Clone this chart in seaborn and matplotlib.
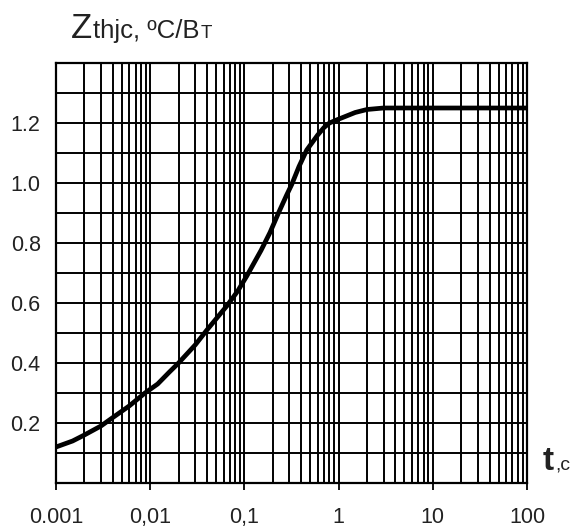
import matplotlib
matplotlib.use("Agg")
import matplotlib.pyplot as plt
import matplotlib.ticker as mticker
import numpy as np
import pandas as pd
import seaborn as sns

# Transient thermal impedance, junction to case
t_sec = [0.001, 0.0015, 0.002, 0.003, 0.004, 0.006, 0.0088, 0.012, 0.016,
         0.020, 0.030, 0.040, 0.065, 0.085, 0.106, 0.13, 0.15, 0.187, 0.23,
         0.281, 0.318, 0.38, 0.459, 0.60, 0.70, 0.80, 0.95, 1.5, 2.0, 3.0,
         10.0, 100.0]
z_thjc = [0.12, 0.14, 0.16, 0.19, 0.218, 0.257, 0.30, 0.33, 0.37,
          0.40, 0.46, 0.51, 0.59, 0.64, 0.69, 0.74, 0.775, 0.835, 0.90,
          0.96, 0.995, 1.055, 1.11, 1.16, 1.185, 1.20, 1.21, 1.235, 1.245, 1.25,
          1.25, 1.25]

x_ticks = [0.001, 0.01, 0.1, 1, 10, 100]
x_tick_labels = ["0.001", "0,01", "0,1", "1", "10", "100"]
y_ticks = [0.2, 0.4, 0.6, 0.8, 1.0, 1.2]
y_tick_labels = ["0.2", "0.4", "0.6", "0.8", "1.0", "1.2"]

sns.set_style("white")
plt.rcParams["font.family"] = ["Liberation Sans", "DejaVu Sans"]

df = pd.DataFrame({"t": t_sec, "z": z_thjc})

fig = plt.figure(figsize=(5.83, 5.29), dpi=100)
ax = fig.add_axes([56 / 583, 1 - 483 / 529, 471 / 583, 420 / 529])

sns.lineplot(data=df, x="t", y="z", ax=ax, color="black", linewidth=3.4,
             zorder=5, solid_joinstyle="round", solid_capstyle="round")

ax.set_xscale("log")
ax.set_xlim(0.001, 100)
ax.set_ylim(0.0, 1.4)

ax.xaxis.set_major_locator(mticker.FixedLocator(x_ticks))
ax.xaxis.set_major_formatter(mticker.FixedFormatter(x_tick_labels))
ax.xaxis.set_minor_locator(mticker.LogLocator(base=10, subs=np.arange(2, 10), numticks=50))
ax.xaxis.set_minor_formatter(mticker.NullFormatter())

ax.yaxis.set_major_locator(mticker.FixedLocator(y_ticks))
ax.yaxis.set_major_formatter(mticker.FixedFormatter(y_tick_labels))
ax.yaxis.set_minor_locator(mticker.MultipleLocator(0.1))

ax.grid(which="both", axis="both", color="black", linewidth=1.4, zorder=1)
ax.set_axisbelow(True)

for sp in ax.spines.values():
    sp.set_color("black")
    sp.set_linewidth(1.6)

ax.tick_params(axis="x", which="major", direction="out", length=5, width=1.3,
               colors="black", labelcolor="#222222", labelsize=15.5, pad=12,
               bottom=True)
ax.tick_params(axis="x", which="minor", length=0)
ax.tick_params(axis="y", which="both", length=0, labelcolor="#222222",
               labelsize=15.5, pad=11)

ax.set_xlabel("")
ax.set_ylabel("")


def text_run(x_px, base_px, pieces):
    """Draw text pieces side by side on one baseline (pixel coordinates)."""
    renderer = fig.canvas.get_renderer()
    x = x_px
    for s, size, weight, gap in pieces:
        x += gap
        txt = fig.text(x / 583, 1 - base_px / 529, s, fontsize=size,
                       fontweight=weight, color="#222222",
                       ha="left", va="baseline")
        bb = txt.get_window_extent(renderer=renderer)
        x = bb.x1


fig.canvas.draw()
text_run(71, 38, [("Z", 25, "normal", 0),
                  ("thjc, ºC/B", 18.5, "normal", 1),
                  ("T", 13.5, "normal", 0.5)])
text_run(543, 470, [("t", 24, "bold", 0),
                    (",c", 14, "normal", 1)])

fig.savefig("out.png", dpi=100)
